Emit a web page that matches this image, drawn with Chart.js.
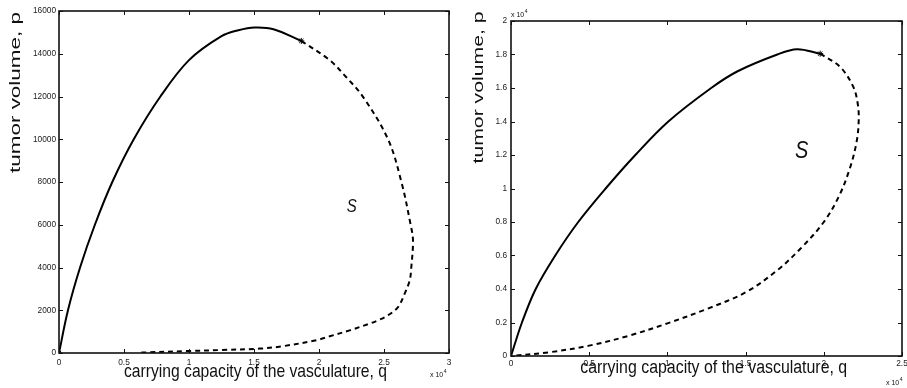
<!DOCTYPE html>
<html>
<head>
<meta charset="utf-8">
<script src="https://cdn.jsdelivr.net/npm/chart.js@4/dist/chart.umd.min.js"></script>
<style>
  body { margin: 0; background: #fff; }
  canvas { position: absolute; top: 0; }
  #left { left: 0; }
  #right { left: 460px; }
</style>
</head>
<body>
<canvas id="left" width="460" height="388"></canvas>
<canvas id="right" width="447" height="388"></canvas>
<script>
// left panel: stable branch (solid) and unstable branch (dashed)
const qSolidA = [0, 690, 1620, 2760, 4100, 5750, 7800, 10000, 12500, 13800, 15050, 16500, 18640];
const pSolidA = [0, 2000, 4000, 6000, 8000, 10000, 12000, 13700, 14820, 15100, 15230, 15150, 14600];
const qDashA = [18640, 20820, 22100, 23385, 25310, 26340, 27050, 27230, 27100, 26980, 26590, 26080, 25310, 24540, 23900, 22360, 20820, 19800, 17230, 15440, 12500, 10000, 6340];
const pDashA = [14600, 13700, 12900, 11985, 10000, 8000, 6000, 5270, 4010, 3400, 2780, 2150, 1765, 1530, 1375, 1060, 780, 600, 320, 205, 140, 94, 19];
const qStarA = [0, 18640];
const pStarA = [0, 14600];

// right panel
const qSolidB = [0, 700, 1580, 2830, 4300, 6050, 7950, 10060, 12800, 14490, 17030, 18290, 19770];
const pSolidB = [0, 2000, 4000, 6000, 8000, 10000, 12000, 14000, 16000, 17000, 18000, 18310, 18050];
const qDashB = [19770, 21030, 21880, 22180, 22230, 22100, 21700, 21000, 20000, 18500, 17000, 15000, 12500, 10000, 7500, 5000, 2500, 0];
const pDashB = [18050, 17270, 16080, 15000, 14000, 12800, 11300, 9600, 8000, 6400, 5100, 3800, 2800, 1950, 1200, 620, 230, 0];
const qStarB = [19770];
const pStarB = [18050];

const FONT = '"Liberation Sans", Arial, Helvetica, sans-serif';

function pts(xs, ys) {
  return xs.map((x, i) => ({ x: x, y: ys[i] }));
}

function fmt(v) {
  return String(+(v / 1e4).toFixed(2));
}

// MATLAB style box with inward ticks on all four sides
const frame = {
  id: 'frame',
  afterDatasetsDraw(chart) {
    const { ctx, chartArea: a, scales } = chart;
    const len = 4;
    ctx.save();
    ctx.strokeStyle = '#111';
    ctx.lineWidth = 1;
    ctx.beginPath();
    scales.x.ticks.forEach(t => {
      const px = Math.round(scales.x.getPixelForValue(t.value)) + 0.5;
      ctx.moveTo(px, a.bottom); ctx.lineTo(px, a.bottom - len);
      ctx.moveTo(px, a.top); ctx.lineTo(px, a.top + len);
    });
    scales.y.ticks.forEach(t => {
      const py = Math.round(scales.y.getPixelForValue(t.value)) + 0.5;
      ctx.moveTo(a.left, py); ctx.lineTo(a.left + len, py);
      ctx.moveTo(a.right, py); ctx.lineTo(a.right - len, py);
    });
    ctx.stroke();
    ctx.lineWidth = 1.6;
    ctx.strokeRect(a.left, a.top, a.right - a.left, a.bottom - a.top);
    ctx.restore();
  }
};

// axis titles, region label and the x 10^4 multipliers
const notes = {
  id: 'notes',
  afterDraw(chart, args, o) {
    const ctx = chart.ctx;
    ctx.save();
    ctx.fillStyle = '#111';
    ctx.textBaseline = 'alphabetic';
    ctx.textAlign = 'center';

    // y title, stretched along its length
    const yt = o.yTitle;
    ctx.font = yt.size + 'px ' + FONT;
    let w = ctx.measureText(yt.text).width;
    ctx.save();
    ctx.translate(yt.x, yt.y);
    ctx.rotate(-Math.PI / 2);
    ctx.scale(yt.len / w, 1);
    ctx.fillText(yt.text, 0, 0);
    ctx.restore();

    // x title, slightly tall
    const xt = o.xTitle;
    ctx.font = xt.size + 'px ' + FONT;
    w = ctx.measureText(xt.text).width;
    ctx.save();
    ctx.translate(xt.x, xt.y);
    ctx.scale(xt.len / w, xt.sy);
    ctx.fillText(xt.text, 0, 0);
    ctx.restore();

    // region label
    const s = o.region;
    ctx.font = 'italic ' + s.size + 'px ' + FONT;
    ctx.save();
    ctx.translate(s.x, s.y);
    ctx.scale(1, s.sy);
    ctx.fillText(s.text, 0, 0);
    ctx.restore();

    // exponent labels
    ctx.textAlign = 'left';
    o.exps.forEach(e => {
      ctx.font = '7px ' + FONT;
      ctx.fillText('x 10', e.x, e.y);
      const ww = ctx.measureText('x 10').width;
      ctx.font = '5px ' + FONT;
      ctx.fillText('4', e.x + ww + 0.5, e.y - 4);
    });
    ctx.restore();
  }
};

function makeChart(id, cfg) {
  const tickFont = { family: FONT, size: 8.3 };
  return new Chart(document.getElementById(id), {
    type: 'scatter',
    data: {
      datasets: [
        {
          data: pts(cfg.qs, cfg.ps),
          showLine: true,
          borderColor: '#000',
          borderWidth: 2,
          pointRadius: 0,
          tension: 0.35,
        },
        {
          data: pts(cfg.qd, cfg.pd),
          showLine: true,
          borderColor: '#000',
          borderWidth: 2,
          borderDash: [5, 4],
          pointRadius: 0,
          tension: 0.35,
        },
        {
          data: pts(cfg.qm, cfg.pm),
          showLine: false,
          pointStyle: 'star',
          pointRadius: 3,
          borderColor: '#000',
          borderWidth: 1,
          backgroundColor: '#000',
        },
      ],
    },
    options: {
      responsive: false,
      animation: false,
      devicePixelRatio: 1,
      layout: { padding: cfg.pad },
      plugins: {
        legend: { display: false },
        tooltip: { enabled: false },
        notes: cfg.notes,
      },
      scales: {
        x: {
          type: 'linear',
          min: 0,
          max: cfg.xMax,
          grid: { display: false, drawTicks: false },
          border: { display: false },
          ticks: {
            stepSize: 5000,
            autoSkip: false,
            maxRotation: 0,
            padding: cfg.xPad,
            color: '#222',
            font: tickFont,
            callback: v => fmt(v),
          },
          afterFit(s) {
            s.height = cfg.xH;
            s.paddingLeft = 0;
            s.paddingRight = 0;
          },
        },
        y: {
          type: 'linear',
          min: 0,
          max: cfg.yMax,
          grid: { display: false, drawTicks: false },
          border: { display: false },
          ticks: {
            stepSize: 2000,
            autoSkip: false,
            padding: cfg.yPad,
            color: '#222',
            font: tickFont,
            callback: cfg.yFmt,
          },
          afterFit(s) {
            s.width = cfg.yW;
            s.paddingTop = 0;
            s.paddingBottom = 0;
          },
        },
      },
    },
    plugins: [frame, notes],
  });
}

const xTitleText = 'carrying capacity of the vasculature, q';
const yTitleText = 'tumor volume, p';

const leftChart = makeChart('left', {
  qs: qSolidA, ps: pSolidA, qd: qDashA, pd: pDashA, qm: qStarA, pm: pStarA,
  xMax: 30000, yMax: 16000,
  yFmt: v => String(v),
  pad: { left: 0, right: 11, top: 11, bottom: 0 },
  xH: 35, yW: 59, xPad: 5, yPad: 3,
  notes: {
    yTitle: { text: yTitleText, x: 20, y: 92.5, len: 161, size: 14.5 },
    xTitle: { text: xTitleText, x: 255.5, y: 377, len: 263, size: 15.7, sy: 1.2 },
    region: { text: 'S', x: 351.7, y: 211.5, size: 15, sy: 1.25 },
    exps: [{ x: 430, y: 377 }],
  },
});

const rightChart = makeChart('right', {
  qs: qSolidB, ps: pSolidB, qd: qDashB, pd: pDashB, qm: qStarB, pm: pStarB,
  xMax: 25000, yMax: 20000,
  yFmt: v => fmt(v),
  pad: { left: 0, right: 1, top: 21, bottom: 0 },
  xH: 32, yW: 51, xPad: 3, yPad: 4,
  notes: {
    yTitle: { text: yTitleText, x: 23, y: 87.5, len: 152, size: 14.5 },
    xTitle: { text: xTitleText, x: 253.7, y: 372.5, len: 267, size: 15.7, sy: 1.15 },
    region: { text: 'S', x: 341.7, y: 158.3, size: 20, sy: 1.15 },
    exps: [{ x: 51, y: 17 }, { x: 426, y: 385 }],
  },
});
</script>
</body>
</html>
